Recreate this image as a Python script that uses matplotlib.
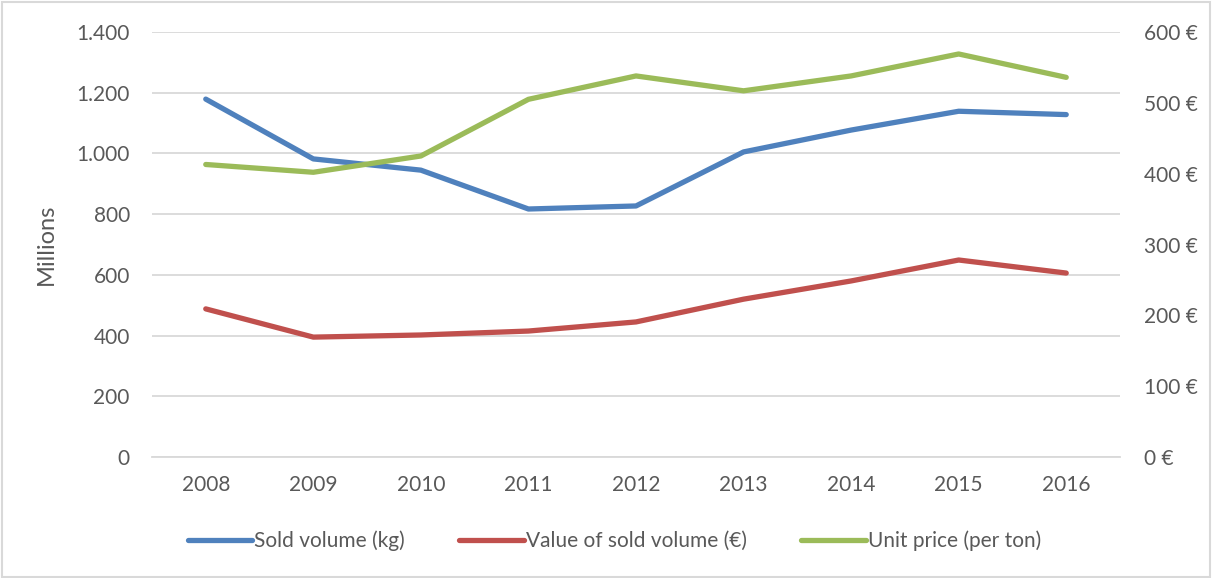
import matplotlib.pyplot as plt
from matplotlib.patches import Rectangle
from matplotlib.ticker import FuncFormatter

plt.rcParams['font.family'] = ['Lato', 'DejaVu Sans']

years = ['2008', '2009', '2010', '2011', '2012', '2013', '2014', '2015', '2016']
sold_volume = [1179, 982, 945, 817, 827, 1005, 1077, 1139, 1128]      # millions kg
sold_value = [488, 395, 402, 415, 445, 520, 580, 649, 606]            # millions €
unit_price = [413, 402, 425, 505, 538, 517, 538, 569, 536]            # € per ton

blue = '#4F81BD'
red = '#C0504D'
green = '#9BBB59'
grey_text = '#595959'
grid_col = '#D9D9D9'

fig = plt.figure(figsize=(12.12, 5.78), dpi=100)
ax = fig.add_axes([0.1254, 0.2093, 0.7987, 0.7353])
ax2 = ax.twinx()

x = range(len(years))
l1, = ax.plot(x, sold_volume, color=blue, lw=3.8, solid_capstyle='round', solid_joinstyle='round',
              label='Sold volume (kg)')
l2, = ax.plot(x, sold_value, color=red, lw=3.8, solid_capstyle='round', solid_joinstyle='round',
              label='Value of sold volume (€)')
l3, = ax2.plot(x, unit_price, color=green, lw=3.8, solid_capstyle='round', solid_joinstyle='round',
               label='Unit price (per ton)')

ax.set_xlim(-0.5, len(years) - 0.5)
ax.set_ylim(0, 1400)
ax2.set_ylim(0, 600)
ax.set_yticks(range(0, 1401, 200))
ax2.set_yticks(range(0, 601, 100))
ax.yaxis.set_major_formatter(FuncFormatter(lambda v, p: f'{int(v):,}'.replace(',', '.')))
ax2.yaxis.set_major_formatter(FuncFormatter(lambda v, p: f'{int(v)} €'))
ax.set_xticks(list(x))
ax.set_xticklabels(years)

ax.grid(axis='y', color=grid_col, lw=1.3)
ax.set_axisbelow(True)
for a in (ax, ax2):
    for s in a.spines.values():
        s.set_visible(False)
    a.tick_params(length=0, labelsize=15, colors=grey_text)
ax.spines['bottom'].set_visible(True)
ax.spines['bottom'].set_color(grid_col)
ax.spines['bottom'].set_linewidth(1.3)
ax.tick_params(axis='x', pad=13)
ax.tick_params(axis='y', pad=16)
ax2.tick_params(axis='y', pad=17)

ax.set_ylabel('Millions', fontsize=17, color=grey_text, labelpad=14)

fig.legend(handles=[l1, l2, l3], loc='center', bbox_to_anchor=(0.507, 0.064), ncol=3,
           frameon=False, fontsize=15, labelcolor=grey_text, handlelength=3.1,
           handletextpad=0.1, columnspacing=2.6)

fig.patches.append(Rectangle((0.002, 0.002), 0.996, 0.994, transform=fig.transFigure,
                             fill=False, edgecolor=grid_col, lw=1.5))

fig.savefig('out.png', dpi=100, facecolor='white')
